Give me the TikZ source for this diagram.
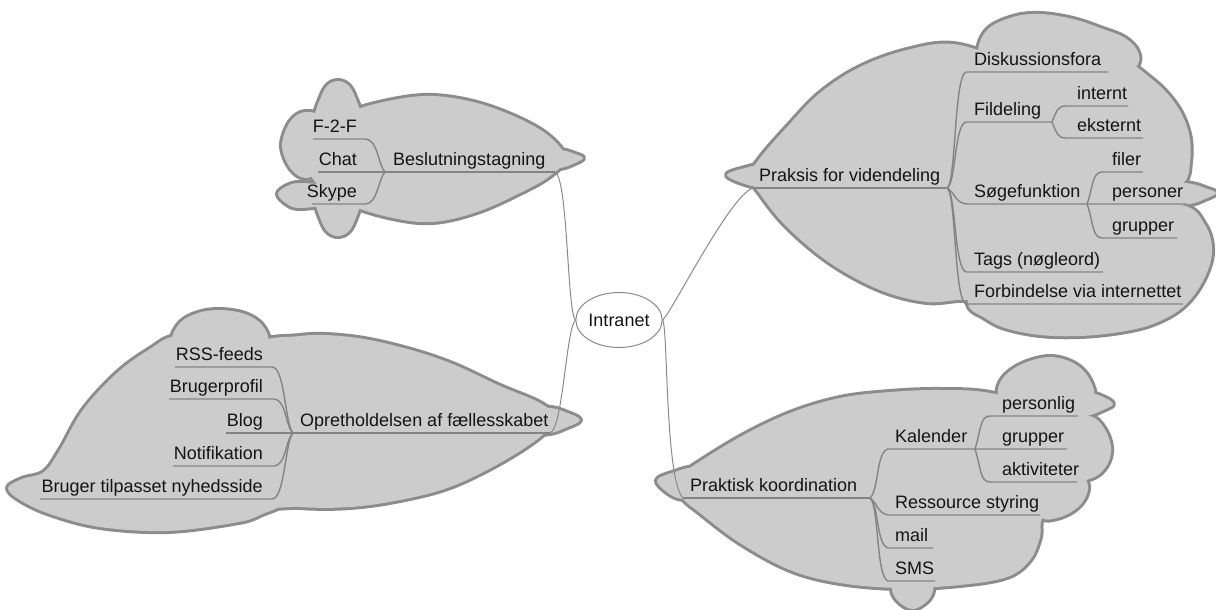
\documentclass[tikz,border=0pt]{standalone}
\usepackage{fontspec}
\setmainfont{Liberation Sans}
\usetikzlibrary{shapes.geometric}

\definecolor{cloudfill}{HTML}{CCCCCC}
\definecolor{cloudrim}{HTML}{8C8C8C}
\definecolor{twigcol}{HTML}{848484}
\definecolor{tiecol}{HTML}{8A8A8A}
\definecolor{inkcol}{HTML}{141414}

\tikzset{
  rim/.style={draw=cloudrim, line width=6pt, line join=round},
  body/.style={fill=cloudfill},
  twig/.style={draw=twigcol, line width=1.4pt},
  tie/.style={draw=tiecol, line width=1pt},
  txt/.style={inner sep=0pt, text=inkcol, font=\fontsize{18}{20}\selectfont},
  tw/.style={txt, anchor=base west},
  te/.style={txt, anchor=base east},
}

% one lobe of a cloud: a smooth closed curve through the given points
\newcommand\lobe[2]{\path[#1] plot[smooth cycle, tension=0.6] coordinates {#2};}

% each cloud is the union of several lobes; #1 = style of the pass
\newcommand\cloudBes[1]{%
  \lobe{#1}{(393,100) (433,96) (477,103) (520,119) (550,137) (565,158) (550,176) (520,193) (477,212) (433,222) (393,218) (350,205) (318,185) (306,160) (318,133) (350,112)}
  \lobe{#1}{(535,151) (560,150) (575,154) (583,158) (575,163) (560,168) (535,168) (525,160)}
  \lobe{#1}{(338,81) (348,85) (355,97) (361,118) (352,138) (338,143) (324,138) (315,118) (321,97) (328,85)}
  \lobe{#1}{(338,178) (352,182) (361,198) (355,220) (348,232) (338,236) (328,232) (321,220) (315,198) (324,182)}
  \lobe{#1}{(305,112) (325,118) (336,140) (326,165) (307,178) (291,169) (282,146) (290,122)}
  \lobe{#1}{(300,183) (330,186) (345,195) (330,204) (300,208) (287,204) (278,194) (287,186)}
}
\newcommand\cloudOpr[1]{%
  \lobe{#1}{(300,336) (350,337) (400,347) (450,363) (500,386) (540,403) (555,418) (540,437) (500,463) (450,487) (400,500) (350,507) (300,507) (250,500) (230,430) (250,350)}
  \lobe{#1}{(530,410) (550,408) (565,412) (580,420) (565,428) (550,433) (530,433) (520,422)}
  \lobe{#1}{(198,313) (220,310) (245,314) (262,325) (268,342) (250,355) (220,358) (190,355) (172,342) (180,323)}
  \lobe{#1}{(177,336) (230,340) (285,360) (300,430) (290,495) (260,515) (233,523) (167,531) (100,527) (50,514) (20,500) (8,488) (22,479) (44,472) (60,450) (83,410) (117,373) (150,349)}
}
\newcommand\cloudPrak[1]{%
  \lobe{#1}{(750,176) (760,158) (787,127) (820,93) (860,67) (907,50) (953,44) (1010,60) (1080,75) (1130,110) (1150,170) (1150,210) (1140,270) (1100,310) (1030,310) (970,300) (927,302) (880,290) (830,263) (787,227) (760,194)}
  \lobe{#1}{(727,175) (745,168) (765,165) (785,176) (765,187) (745,184)}
  \lobe{#1}{(987,30) (1013,17) (1040,14) (1073,19) (1103,29) (1125,38) (1138,52) (1135,68) (1100,90) (1040,100) (990,85) (978,55)}
  \lobe{#1}{(1120,62) (1153,80) (1177,106) (1189,134) (1190,162) (1183,183) (1150,190) (1100,170) (1095,100)}
  \lobe{#1}{(1120,183) (1170,182) (1192,184) (1205,188) (1216,193) (1205,199) (1190,204) (1160,206) (1120,205) (1110,194)}
  \lobe{#1}{(1000,235) (1100,210) (1180,205) (1205,225) (1212,253) (1202,283) (1182,308) (1153,324) (1120,332) (1080,336) (1040,335) (1005,328) (985,318) (968,304) (975,270)}
}
\newcommand\cloudKoord[1]{%
  \lobe{#1}{(680,478) (690,468) (740,437) (790,413) (840,398) (890,392) (940,390) (990,393) (1050,410) (1075,450) (1070,490) (1043,517) (1040,537) (1030,560) (1007,577) (960,585) (900,588) (840,583) (790,570) (740,543) (700,513) (682,497)}
  \lobe{#1}{(657,481) (675,472) (695,468) (715,480) (695,497) (675,497)}
  \lobe{#1}{(1022,364) (1050,357) (1075,364) (1090,380) (1092,400) (1060,420) (1010,415) (998,395) (1003,378)}
  \lobe{#1}{(1050,393) (1085,392) (1103,397) (1113,404) (1103,410) (1087,416) (1060,420) (1045,408)}
  \lobe{#1}{(1060,415) (1090,416) (1104,428) (1111,447) (1107,465) (1092,478) (1060,482) (1045,450)}
  \lobe{#1}{(1050,476) (1080,476) (1088,486) (1084,500) (1073,511) (1057,518) (1042,518) (1032,500)}
  \lobe{#1}{(913,575) (932,582) (930,598) (913,609) (897,600) (893,586)}
}

\begin{document}
\begin{tikzpicture}[x=1pt, y=-1pt]
\useasboundingbox (0,0) rectangle (1216,610);

% clouds: outlines first, then the fill covers the inner parts
\cloudBes{rim}   \cloudBes{body}
\cloudOpr{rim}   \cloudOpr{body}
\cloudPrak{rim}  \cloudPrak{body}
\cloudKoord{rim} \cloudKoord{body}

% central topic
\node[ellipse, draw=tiecol, line width=1pt, fill=white, minimum width=78pt,
      minimum height=55pt, inner sep=0pt, text=inkcol,
      font=\fontsize{18}{20}\selectfont] (intranet) at (619,320) {Intranet};

% ---- Beslutningstagning
\coordinate (jB) at (385,172);
\coordinate (besE) at (555,172);
\draw[twig] (318,172) -- (besE);
\draw[twig] (313,139) -- (365,139) .. controls (378,139) and (378,165) .. (jB);
\draw[twig] (312,204) -- (365,204) .. controls (378,204) and (378,179) .. (jB);
\node[tw] (bes) at (393,165.5) {Beslutningstagning};
\node[te] (f2f) at (357,132.5) {F-2-F};
\node[te] (chat) at (357,165.5) {Chat};
\node[te] (skype) at (357,197.5) {Skype};

% ---- Opretholdelsen af fællesskabet
\coordinate (jO) at (293,433);
\coordinate (oprE) at (550,433);
\draw[twig] (226,433) -- (oprE);
\draw[twig] (175,367) -- (272,367) .. controls (285,367) and (285,425) .. (jO);
\draw[twig] (169,399) -- (274,399) .. controls (286,399) and (286,428) .. (jO);
\draw[twig] (173,466) -- (274,466) .. controls (286,466) and (286,438) .. (jO);
\draw[twig] (40,499) -- (272,499) .. controls (285,499) and (285,441) .. (jO);
\node[tw] (opr) at (300,426.5) {Opretholdelsen af fællesskabet};
\node[te] (rss) at (263,360.5) {RSS-feeds};
\node[te] (profil) at (263,392.5) {Brugerprofil};
\node[te] (blog) at (263,426.5) {Blog};
\node[te] (notif) at (263,459.5) {Notifikation};
\node[te] (nyhed) at (263,492.5) {Bruger tilpasset nyhedsside};

% ---- Praksis for videndeling
\coordinate (prakS) at (753,188);
\coordinate (jP) at (947,188);
\coordinate (jF) at (1052,122);
\coordinate (jS) at (1087,204);
\draw[twig] (prakS) -- (jP);
\draw[twig] (jP) .. controls (956,184) and (954,76) .. (966,72) -- (1108,72);
\draw[twig] (jP) .. controls (956,184) and (954,125) .. (966,122) -- (jF);
\draw[twig] (jF) .. controls (1057,110) and (1058,106) .. (1066,106) -- (1128,106);
\draw[twig] (jF) .. controls (1057,134) and (1058,138) .. (1066,138) -- (1143,138);
\draw[twig] (jP) .. controls (955,192) and (955,204) .. (968,204) -- (1187,204);
\draw[twig] (jS) .. controls (1093,188) and (1092,172) .. (1102,172) -- (1143,172);
\draw[twig] (jS) .. controls (1093,220) and (1092,238) .. (1102,238) -- (1177,238);
\draw[twig] (jP) .. controls (956,192) and (954,268) .. (966,272) -- (1103,272);
\draw[twig] (jP) .. controls (956,192) and (954,300) .. (966,304) -- (1183,304);
\node[tw] (prak) at (759,181.5) {Praksis for videndeling};
\node[tw] (disk) at (974,65.5) {Diskussionsfora};
\node[tw] (fild) at (974,115.5) {Fildeling};
\node[tw] (intern) at (1077,99.5) {internt};
\node[tw] (ekstern) at (1077,131.5) {eksternt};
\node[tw] (soeg) at (974,197.5) {Søgefunktion};
\node[tw] (filer) at (1112,165.5) {filer};
\node[tw] (pers) at (1112,197.5) {personer};
\node[tw] (grupA) at (1112,231.5) {grupper};
\node[tw] (tags) at (974,265.5) {Tags (nøgleord)};
\node[tw] (forb) at (974,297.5) {Forbindelse via internettet};

% ---- Praktisk koordination
\coordinate (pkS) at (683,498);
\coordinate (jK) at (870,498);
\coordinate (jC) at (975,449);
\draw[twig] (pkS) -- (jK);
\draw[twig] (jK) .. controls (879,490) and (876,452) .. (888,449) -- (jC) -- (1067,449);
\draw[twig] (jC) .. controls (981,430) and (980,416) .. (990,416) -- (1078,416);
\draw[twig] (jC) .. controls (981,468) and (980,482) .. (990,482) -- (1077,482);
\draw[twig] (jK) .. controls (879,505) and (876,512) .. (888,515) -- (1040,515);
\draw[twig] (jK) .. controls (879,505) and (876,544) .. (888,548) -- (933,548);
\draw[twig] (jK) .. controls (879,505) and (876,577) .. (888,581) -- (935,581);
\node[tw] (pk) at (690,491.5) {Praktisk koordination};
\node[tw] (kal) at (895,442.5) {Kalender};
\node[tw] (persl) at (1002,409.5) {personlig};
\node[tw] (grupB) at (1002,442.5) {grupper};
\node[tw] (akt) at (1002,475.5) {aktiviteter};
\node[tw] (ress) at (895,508.5) {Ressource styring};
\node[tw] (mail) at (895,541.5) {mail};
\node[tw] (sms) at (895,574.5) {SMS};

% ---- links to the central topic
\draw[tie] (besE) .. controls (568,178) and (567,310) .. (intranet.west);
\draw[tie] (oprE) .. controls (563,428) and (566,330) .. (intranet.west);
\draw[tie] (intranet.east) .. controls (672,312) and (730,195) .. (prakS);
\draw[tie] (intranet.east) .. controls (668,328) and (665,480) .. (pkS);
\end{tikzpicture}
\end{document}
